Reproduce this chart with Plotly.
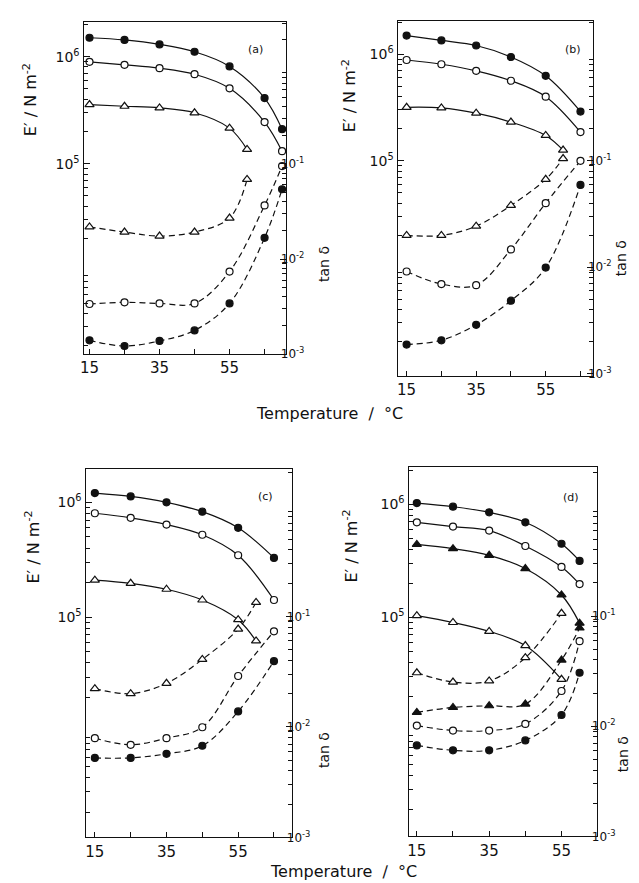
import plotly.graph_objects as go

W, H = 639, 883

# ---------------- data ----------------
T7 = [15, 25, 35, 45, 55, 65, 70]
T6 = [15, 25, 35, 45, 55, 65]
T6b = [15, 25, 35, 45, 55, 60]
T5 = [15, 25, 35, 45, 55]

# panel (a)
a_E_filled = [1.50e6, 1.43e6, 1.30e6, 1.11e6, 8.1e5, 4.1e5, 2.1e5]
a_E_open = [8.93e5, 8.38e5, 7.80e5, 6.85e5, 5.06e5, 2.45e5, 1.31e5]
a_E_tri = [3.57e5, 3.44e5, 3.32e5, 2.99e5, 2.15e5, 1.36e5]
a_t_tri = [0.0217, 0.0192, 0.0174, 0.0192, 0.0269, 0.0685]
a_t_open = [0.00337, 0.00351, 0.00342, 0.00342, 0.00738, 0.0365, 0.0946]
a_t_filled = [0.00140, 0.00122, 0.00138, 0.00178, 0.00342, 0.0167, 0.0540]

# panel (b)
b_E_filled = [1.50e6, 1.35e6, 1.21e6, 9.44e5, 6.28e5, 2.90e5]
b_E_open = [8.85e5, 8.07e5, 7.00e5, 5.65e5, 4.00e5, 1.86e5]
b_E_tri = [3.18e5, 3.14e5, 2.80e5, 2.31e5, 1.73e5, 1.26e5]
b_t_tri = [0.0199, 0.0199, 0.0243, 0.0381, 0.0670, 0.105]
b_t_open = [0.00912, 0.00695, 0.00679, 0.0147, 0.0400, 0.100]
b_t_filled = [0.00188, 0.00206, 0.00288, 0.00485, 0.00993, 0.0593]

# panel (c)
c_E_filled = [1.205e6, 1.127e6, 1.0e6, 8.30e5, 6.00e5, 3.28e5]
c_E_open = [8.04e5, 7.33e5, 6.41e5, 5.22e5, 3.46e5, 1.41e5]
c_E_tri = [2.10e5, 1.97e5, 1.75e5, 1.41e5, 9.5e4, 6.2e4]
c_t_tri = [0.0222, 0.0200, 0.0248, 0.0408, 0.0769, 0.134]
c_t_open = [0.00791, 0.00689, 0.00791, 0.00993, 0.0289, 0.0733]
c_t_filled = [0.00524, 0.00524, 0.00571, 0.00675, 0.0138, 0.0394]

# panel (d)
d_E_filled = [1.02e6, 9.48e5, 8.45e5, 6.90e5, 4.46e5, 3.14e5]
d_E_open = [6.90e5, 6.32e5, 5.83e5, 4.26e5, 2.78e5, 1.96e5]
d_E_ftri = [4.40e5, 4.03e5, 3.52e5, 2.69e5, 1.57e5, 8.85e4]
d_E_otri = [1.03e5, 8.97e4, 7.48e4, 5.61e4, 2.82e4]
d_t_otri = [0.0306, 0.0252, 0.0258, 0.0419, 0.106]
d_t_ftri = [0.01337, 0.01483, 0.01535, 0.01589, 0.0399, 0.0780]
d_t_open = [0.01014, 0.00914, 0.00914, 0.01050, 0.0209, 0.0592]
d_t_filled = [0.00670, 0.00604, 0.00604, 0.00743, 0.01265, 0.0306]

x_tickvals = [15, 25, 35, 45, 55, 65]
x_ticktext = ["15", "", "35", "", "55", ""]
E_tickvals = [1e5, 1e6]
E_ticktext = ["10<sup>5</sup>", "10<sup>6</sup>"]
t_tickvals = [1e-3, 1e-2, 1e-1]
t_ticktext = ["10<sup>-3</sup>", "10<sup>-2</sup>", "10<sup>-1</sup>"]

# ---------------- layout geometry (pixels) ----------------
panels = [
    dict(box=(72, 276, 14, 349), xr=[13.3, 71.2], er=[3.222, 6.324], tr=[-3.0, 0.490],
         letter="(a)", lp=(245, 42), elab=(18, 92), tlab=(314, 258)),
    dict(box=(388, 585, 13, 371), xr=[12.4, 68.7], er=[2.978, 6.314], tr=[-3.022, 0.314],
         letter="(b)", lp=(565, 42), elab=(339, 88), tlab=(613, 252)),
    dict(box=(74, 282, 465, 836), xr=[12.4, 70.1], er=[3.081, 6.288], tr=[-3.0, 0.332],
         letter="(c)", lp=(255, 492), elab=(21, 543), tlab=(314, 748)),
    dict(box=(399, 589, 463, 835), xr=[12.7, 64.9], er=[3.061, 6.325], tr=[-3.0, 0.351],
         letter="(d)", lp=(563, 493), elab=(341, 542), tlab=(615, 752)),
]

def px(x):
    return x / W

def py(y):
    return 1 - y / H

FONT = "DejaVu Sans"
BLACK = "#111111"

def minor_vals(lo, hi):
    out = []
    for e in range(lo, hi + 1):
        for m in range(2, 10):
            out.append(m * 10.0 ** e)
    return out

fig = go.Figure()

def add(xv, yv, panel, right, symbol, filled, dashed):
    xa = "x" if panel == 0 else f"x{panel+1}"
    yi = 2 * panel + (2 if right else 1)
    ya = "y" if yi == 1 else f"y{yi}"
    fig.add_trace(go.Scatter(
        x=xv, y=yv, xaxis=xa, yaxis=ya, mode="lines+markers",
        line=dict(color=BLACK, width=1.2, shape="spline", smoothing=1.0,
                  dash="6px,4px" if dashed else "solid"),
        marker=dict(symbol=symbol, size=8 if "triangle" in symbol else 7,
                    color=BLACK if filled else "white",
                    line=dict(color=BLACK, width=1.2)),
        showlegend=False, cliponaxis=False, hoverinfo="skip"))

# (a)
add(T7, a_E_filled, 0, False, "circle", True, False)
add(T7, a_E_open, 0, False, "circle", False, False)
add(T6b, a_E_tri, 0, False, "triangle-up", False, False)
add(T6b, a_t_tri, 0, True, "triangle-up", False, True)
add(T7, a_t_open, 0, True, "circle", False, True)
add(T7, a_t_filled, 0, True, "circle", True, True)
# (b)
add(T6, b_E_filled, 1, False, "circle", True, False)
add(T6, b_E_open, 1, False, "circle", False, False)
add(T6b, b_E_tri, 1, False, "triangle-up", False, False)
add(T6b, b_t_tri, 1, True, "triangle-up", False, True)
add(T6, b_t_open, 1, True, "circle", False, True)
add(T6, b_t_filled, 1, True, "circle", True, True)
# (c)
add(T6, c_E_filled, 2, False, "circle", True, False)
add(T6, c_E_open, 2, False, "circle", False, False)
add(T6b, c_E_tri, 2, False, "triangle-up", False, False)
add(T6b, c_t_tri, 2, True, "triangle-up", False, True)
add(T6, c_t_open, 2, True, "circle", False, True)
add(T6, c_t_filled, 2, True, "circle", True, True)
# (d)
add(T6b, d_E_filled, 3, False, "circle", True, False)
add(T6b, d_E_open, 3, False, "circle", False, False)
add(T6b, d_E_ftri, 3, False, "triangle-up", True, False)
add(T5, d_E_otri, 3, False, "triangle-up", False, False)
add(T5, d_t_otri, 3, True, "triangle-up", False, True)
add(T6b, d_t_ftri, 3, True, "triangle-up", True, True)
add(T6b, d_t_open, 3, True, "circle", False, True)
add(T6b, d_t_filled, 3, True, "circle", True, True)

layout = dict(width=W, height=H, margin=dict(l=0, r=0, t=0, b=0),
              paper_bgcolor="white", plot_bgcolor="white",
              font=dict(family=FONT, color=BLACK), showlegend=False)
annotations = []

def ann(x, y, text, size, angle=0):
    annotations.append(dict(x=px(x), y=py(y), xref="paper", yref="paper",
                            xanchor="center", yanchor="middle", text=text,
                            textangle=angle, showarrow=False,
                            font=dict(size=size, family=FONT, color=BLACK)))

for i, p in enumerate(panels):
    x0, x1, y0, y1 = p["box"]
    xk = "xaxis" if i == 0 else f"xaxis{i+1}"
    yl = 2 * i + 1
    yr = 2 * i + 2
    ykl = "yaxis" if yl == 1 else f"yaxis{yl}"
    ykr = f"yaxis{yr}"
    yl_name = "y" if yl == 1 else f"y{yl}"
    x_name = "x" if i == 0 else f"x{i+1}"
    layout[xk] = dict(domain=[px(x0), px(x1)], range=p["xr"], anchor=yl_name,
                      showline=True, mirror=True, linecolor=BLACK, linewidth=1.3,
                      showgrid=False, zeroline=False, tickmode="array",
                      tickvals=x_tickvals, ticktext=x_ticktext, ticks="inside",
                      ticklen=5, tickcolor=BLACK, tickfont=dict(size=15, family=FONT))
    layout[ykl] = dict(domain=[py(y1), py(y0)], type="log", range=p["er"], anchor=x_name,
                       showline=True, mirror=True, linecolor=BLACK, linewidth=1.3,
                       showgrid=False, zeroline=False, tickmode="array",
                       tickvals=E_tickvals, ticktext=E_ticktext, ticks="inside",
                       ticklen=6, tickcolor=BLACK, tickfont=dict(size=14, family=FONT),
                       minor=dict(ticks="inside", ticklen=4, tickcolor=BLACK,
                                  tickmode="array", tickvals=minor_vals(2, 6)))
    layout[ykr] = dict(overlaying=yl_name, side="right", type="log", range=p["tr"],
                       anchor=x_name, showline=True, linecolor=BLACK, linewidth=1.3,
                       showgrid=False, zeroline=False, tickmode="array",
                       tickvals=t_tickvals, ticktext=t_ticktext, ticks="inside",
                       ticklen=6, tickcolor=BLACK, tickfont=dict(size=12, family=FONT),
                       ticklabelstandoff=-9,
                       minor=dict(ticks="inside", ticklen=4, tickcolor=BLACK,
                                  tickmode="array", tickvals=minor_vals(-4, 0)))
    lx, ly = p["lp"]
    ann(lx, ly, p["letter"], 11)
    ex, ey = p["elab"]
    ann(ex, ey, "E′ ∕ N m<sup>-2</sup>", 16, -90)
    tx, ty = p["tlab"]
    ann(tx, ty, "tan δ", 14, -90)

for (tx, ty) in [(320, 409), (334, 870)]:
    ann(tx, ty, "Temperature  ∕  °C", 16)

layout["annotations"] = annotations
fig.update_layout(**layout)
fig.write_html("out.html")
